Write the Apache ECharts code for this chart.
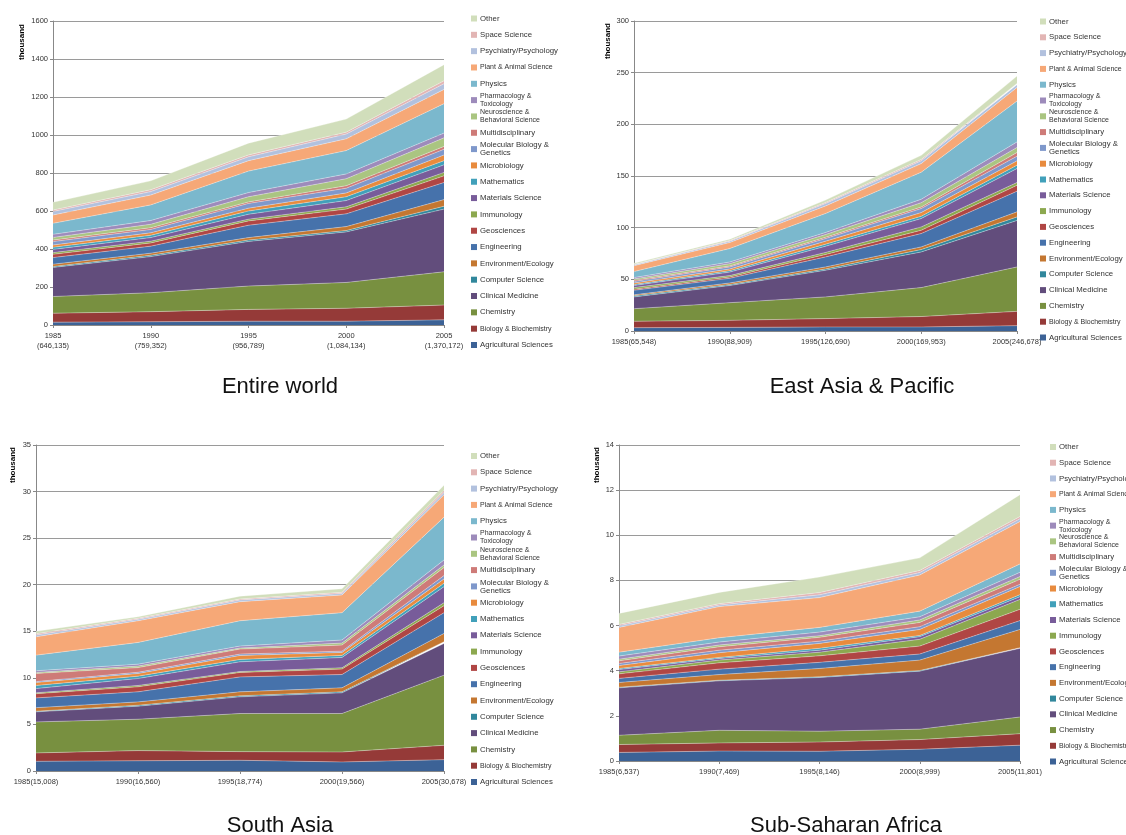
<!DOCTYPE html>
<html>
<head>
<meta charset="utf-8">
<script src="https://cdn.jsdelivr.net/npm/echarts@6/dist/echarts.min.js"></script>
<style>
html,body{margin:0;padding:0;background:#fff;}
#chart{width:1126px;height:835px;}
</style>
</head>
<body>
<div id="chart"></div>
<script>
// ---- categories ----
const years = ['1985', '1990', '1995', '2000', '2005'];
const fields = ['Agricultural Sciences', 'Biology & Biochemistry', 'Chemistry', 'Clinical Medicine',
  'Computer Science', 'Environment/Ecology', 'Engineering', 'Geosciences', 'Immunology',
  'Materials Science', 'Mathematics', 'Microbiology', 'Molecular Biology & Genetics',
  'Multidisciplinary', 'Neuroscience & Behavioral Science', 'Pharmacology & Toxicology',
  'Physics', 'Plant & Animal Science', 'Psychiatry/Psychology', 'Space Science', 'Other'];

// ---- tick label totals ----
const worldTotals = ['646,135', '759,352', '956,789', '1,084,134', '1,370,172'];
const eastAsiaTotals = ['65,548', '88,909', '126,690', '169,953', '246,678'];
const southAsiaTotals = ['15,008', '16,560', '18,774', '19,566', '30,678'];
const ssaTotals = ['6,537', '7,469', '8,146', '8,999', '11,801'];

// ---- values (thousand), one row per year, columns in `fields` order ----
const worldValues = [
  [15, 47, 88, 153, 5, 12, 35, 17, 9, 17, 11, 12, 18, 8, 14, 16, 58, 44, 19, 7, 41],
  [17, 53, 100, 190, 7, 11, 37, 17, 9, 19, 12, 13, 18, 9, 18, 20, 82, 52, 18, 10, 47],
  [20, 62, 123, 235, 7, 13, 65, 23, 9, 26, 17, 15, 25, 8, 27, 22, 113, 55, 20, 10, 62],
  [20, 68, 136, 266, 7, 21, 67, 25, 12, 33, 20, 20, 25, 13, 37, 25, 123, 62, 25, 10, 69],
  [27, 78, 175, 330, 15, 35, 90, 35, 18, 40, 22, 30, 30, 15, 45, 25, 155, 75, 30, 15, 85]
];
const eastAsiaValues = [
  [3.2, 6.2, 12.2, 11.4, 1.0, 1.0, 4.4, 1.0, 1.6, 2.0, 1.0, 1.5, 1.5, 1.0, 1.4, 1.3, 5.8, 5.7, 0.8, 0.4, 1.1],
  [3.5, 6.8, 17.1, 16.6, 1.0, 1.5, 4.5, 1.3, 1.3, 3.4, 1.4, 1.6, 2.0, 1.0, 2.2, 1.6, 13.0, 5.8, 1.3, 0.6, 1.4],
  [3.9, 8.1, 21.0, 25.8, 1.2, 2.0, 9.7, 2.3, 2.0, 6.0, 2.0, 2.9, 2.5, 1.3, 2.6, 2.0, 18.4, 7.3, 2.3, 1.0, 2.4],
  [3.9, 10.1, 28.0, 34.5, 2.3, 2.6, 12.9, 3.2, 3.2, 8.1, 2.2, 3.6, 3.9, 1.5, 4.2, 3.3, 26.2, 8.3, 2.7, 1.3, 4.0],
  [5.2, 13.8, 43.0, 45.0, 3.4, 4.9, 20.0, 5.7, 2.7, 13.5, 3.3, 4.2, 4.5, 3.5, 4.9, 5.4, 39.5, 13.2, 2.6, 1.3, 7.1]
];
const southAsiaValues = [
  [1.04, 0.90, 3.33, 1.08, 0.07, 0.38, 1.05, 0.45, 0.10, 0.45, 0.33, 0.32, 0.10, 0.87, 0.11, 0.18, 1.68, 1.97, 0.19, 0.14, 0.26],
  [1.10, 1.09, 3.37, 1.40, 0.10, 0.36, 1.08, 0.54, 0.14, 0.75, 0.25, 0.29, 0.13, 0.50, 0.16, 0.21, 2.33, 2.33, 0.15, 0.11, 0.17],
  [1.15, 0.93, 4.09, 1.79, 0.11, 0.43, 1.60, 0.48, 0.10, 1.04, 0.26, 0.42, 0.15, 0.54, 0.11, 0.21, 2.72, 2.05, 0.18, 0.11, 0.30],
  [0.97, 1.07, 4.13, 2.22, 0.11, 0.43, 1.43, 0.58, 0.14, 1.11, 0.22, 0.32, 0.14, 0.65, 0.21, 0.33, 2.94, 1.90, 0.17, 0.11, 0.39],
  [1.22, 1.54, 7.53, 3.41, 0.18, 0.89, 2.23, 0.75, 0.32, 1.72, 0.36, 0.47, 0.36, 0.86, 0.28, 0.54, 4.59, 2.40, 0.25, 0.22, 0.56]
];
const ssaValues = [
  [0.38, 0.35, 0.41, 2.10, 0.03, 0.21, 0.18, 0.20, 0.09, 0.10, 0.05, 0.13, 0.09, 0.12, 0.07, 0.14, 0.17, 1.10, 0.07, 0.06, 0.49],
  [0.44, 0.36, 0.56, 2.19, 0.03, 0.25, 0.24, 0.28, 0.12, 0.07, 0.05, 0.21, 0.11, 0.15, 0.08, 0.13, 0.19, 1.38, 0.07, 0.06, 0.50],
  [0.43, 0.41, 0.48, 2.38, 0.03, 0.37, 0.27, 0.29, 0.16, 0.09, 0.08, 0.22, 0.10, 0.17, 0.07, 0.16, 0.21, 1.32, 0.12, 0.10, 0.69],
  [0.52, 0.43, 0.46, 2.57, 0.03, 0.46, 0.27, 0.35, 0.30, 0.12, 0.05, 0.27, 0.12, 0.19, 0.11, 0.14, 0.25, 1.60, 0.11, 0.09, 0.56],
  [0.70, 0.51, 0.74, 3.04, 0.03, 0.81, 0.39, 0.50, 0.44, 0.12, 0.09, 0.36, 0.10, 0.22, 0.12, 0.19, 0.37, 1.88, 0.12, 0.10, 0.97]
];

// ---- styles ----
const colors = ['#3C6296', '#953A38', '#789040', '#624D7C', '#31879C', '#C47731', '#4672AB', '#B04644',
  '#8CA84F', '#785C9A', '#41A0BA', '#E88B3E', '#7F98CB', '#CE7B78', '#AAC581', '#9D8BBB',
  '#7BB8CD', '#F6A877', '#B2C1DE', '#E2B5B4', '#D1DEBB'];
const wrapped = {
  'Pharmacology & Toxicology': 'Pharmacology &\nToxicology',
  'Neuroscience & Behavioral Science': 'Neuroscience &\nBehavioral Science',
  'Molecular Biology & Genetics': 'Molecular Biology &\nGenetics'
};
const smallText = new Set(['Plant & Animal Science', 'Biology & Biochemistry', 'Pharmacology & Toxicology', 'Neuroscience & Behavioral Science']);
const FONT = '"Liberation Sans", Arial, sans-serif';

const panels = [
  { title: 'Entire world', values: worldValues, totals: worldTotals, twoLine: true, max: 1600, interval: 200,
    grid: { left: 53, top: 21, width: 391, height: 304 }, titleX: 280, titleY: 376,
    thousand: [22, 42], legend: { x: 471, y0: 18.5, y1: 345 } },
  { title: 'East Asia & Pacific', values: eastAsiaValues, totals: eastAsiaTotals, twoLine: false, max: 300, interval: 50,
    grid: { left: 634, top: 21, width: 383, height: 310 }, titleX: 862, titleY: 376,
    thousand: [608, 41], legend: { x: 1040, y0: 21.5, y1: 337.5 } },
  { title: 'South Asia', values: southAsiaValues, totals: southAsiaTotals, twoLine: false, max: 35, interval: 5,
    grid: { left: 36, top: 445, width: 408, height: 326 }, titleX: 280, titleY: 815,
    thousand: [13, 465], legend: { x: 471, y0: 456, y1: 782 } },
  { title: 'Sub-Saharan Africa', values: ssaValues, totals: ssaTotals, twoLine: false, max: 14, interval: 2,
    grid: { left: 619, top: 445, width: 401, height: 316 }, titleX: 846, titleY: 815,
    thousand: [597, 465], legend: { x: 1050, y0: 447, y1: 761.5 } }
];

const option = {
  animation: false,
  backgroundColor: '#fff',
  textStyle: { fontFamily: FONT },
  title: [], grid: [], xAxis: [], yAxis: [], series: [], legend: [], graphic: []
};

panels.forEach((p, r) => {
  option.title.push({
    text: p.title, left: p.titleX, top: p.titleY, textAlign: 'center', padding: 0,
    textStyle: { fontFamily: FONT, fontSize: 22, fontWeight: 'normal', color: '#111' }
  });
  option.grid.push(Object.assign({ containLabel: false }, p.grid));
  option.xAxis.push({
    type: 'category', gridIndex: r, boundaryGap: false,
    data: years.map((y, j) => p.twoLine ? y + '\n(' + p.totals[j] + ')' : y + '(' + p.totals[j] + ')'),
    axisLine: { lineStyle: { color: '#888', width: 1 } },
    axisTick: { show: true, length: 3, lineStyle: { color: '#888' } },
    axisLabel: { fontFamily: FONT, fontSize: 7.5, color: '#333', margin: 6, interval: 0, lineHeight: 10 },
    splitLine: { show: false }
  });
  option.yAxis.push({
    type: 'value', gridIndex: r, min: 0, max: p.max, interval: p.interval,
    axisLine: { show: true, lineStyle: { color: '#888', width: 1 } },
    axisTick: { show: true, length: 3, lineStyle: { color: '#888' } },
    axisLabel: { fontFamily: FONT, fontSize: 7.5, color: '#333', margin: 5, formatter: v => String(v) },
    splitLine: { show: true, lineStyle: { color: '#9a9a9a', width: 1 } }
  });
  fields.forEach((f, i) => {
    option.series.push({
      type: 'line', name: f, xAxisIndex: r, yAxisIndex: r, stack: 'panel' + r,
      symbol: 'none', smooth: false,
      data: p.values.map(row => row[i]),
      itemStyle: { color: colors[i] },
      areaStyle: { color: colors[i], opacity: 1 },
      lineStyle: { width: 0.6, color: 'rgba(255,255,255,0.55)' },
      emphasis: { disabled: true }
    });
  });
  // legend: one entry per field, top-to-bottom in reverse stack order
  const n = fields.length;
  for (let k = 0; k < n; k++) {
    const i = n - 1 - k;
    const name = fields[i];
    const cy = p.legend.y0 + k * (p.legend.y1 - p.legend.y0) / (n - 1);
    const two = !!wrapped[name];
    const h = two ? 16 : 8;
    option.legend.push({
      data: [{ name: name, icon: 'rect', itemStyle: { color: colors[i], borderWidth: 0 } }],
      left: p.legend.x, top: cy - h / 2, padding: 0,
      itemWidth: 6, itemHeight: 6, selectedMode: false,
      formatter: nm => wrapped[nm] || nm,
      textStyle: { fontFamily: FONT, fontSize: smallText.has(name) ? 7 : 7.8, lineHeight: 8, color: '#333', padding: [0, 0, 0, -2] }
    });
  }
  option.graphic.push({
    type: 'text', x: p.thousand[0], y: p.thousand[1], rotation: Math.PI / 2,
    style: { text: 'thousand', font: 'bold 8px ' + FONT, fill: '#000', textAlign: 'center', textVerticalAlign: 'middle' }
  });
});

const chart = echarts.init(document.getElementById('chart'), null, { renderer: 'canvas' });
chart.setOption(option);
</script>
</body>
</html>
